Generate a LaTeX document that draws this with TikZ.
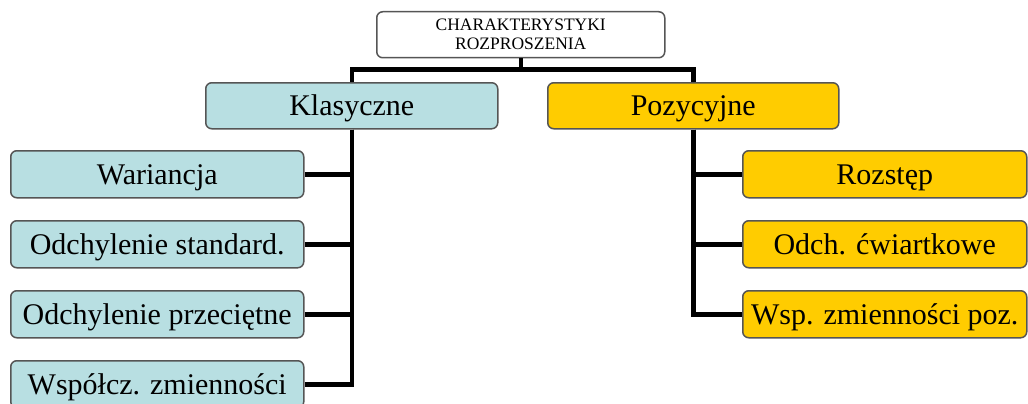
\documentclass[tikz,border=0pt]{standalone}
\usepackage{fontspec}
\setmainfont{Liberation Serif}
\definecolor{lblue}{RGB}{184,223,226}
\definecolor{gold}{RGB}{255,204,0}
\definecolor{bord}{RGB}{85,85,85}
\tikzset{
  box/.style={draw=bord, line width=1.5pt, rounded corners=6pt, anchor=north west, inner sep=0pt, font=\fontsize{30}{32}\selectfont},
  lbl/.style={text height=20pt, text depth=0pt},
  cbox/.style={box, lbl, fill=lblue},
  ybox/.style={box, lbl, fill=gold},
  link/.style={line width=4.5pt, black}
}
\begin{document}
\begin{tikzpicture}[x=1pt,y=-1pt]
\useasboundingbox (0,0) rectangle (1028,404);
\node[box, fill=white, minimum width=288pt, minimum height=46pt, font=\fontsize{17.5}{19}\selectfont, align=center] (top) at (376,11) {CHARAKTERYSTYKI\\ROZPROSZENIA};
\node[cbox, minimum width=292pt, minimum height=46pt] (kl) at (205,82) {Klasyczne};
\node[ybox, minimum width=291pt, minimum height=46pt] (po) at (547,82) {Pozycyjne};
\node[cbox, minimum width=293pt, minimum height=47pt] (c1) at (10,150) {Wariancja};
\node[cbox, minimum width=293pt, minimum height=47pt] (c2) at (10,220) {Odchylenie standard.};
\node[cbox, minimum width=293pt, minimum height=47pt] (c3) at (10,290) {Odchylenie przeciętne};
\node[cbox, minimum width=293pt, minimum height=47pt] (c4) at (10,360) {Współcz. zmienności};
\node[ybox, minimum width=284pt, minimum height=47pt] (p1) at (742,150) {Rozstęp};
\node[ybox, minimum width=284pt, minimum height=47pt] (p2) at (742,220) {Odch. ćwiartkowe};
\node[ybox, minimum width=284pt, minimum height=47pt] (p3) at (742,290) {Wsp. zmienności poz.};
\path (top.south) ++(0,11) coordinate (bar);
\draw[link] (top.south) -- (bar);
\draw[link] (bar) -| (kl.north);
\draw[link] (bar) -| (po.north);
\draw[link] (kl.south) |- (c1.east);
\draw[link] (kl.south) |- (c2.east);
\draw[link] (kl.south) |- (c3.east);
\draw[link] (kl.south) |- (c4.east);
\draw[link] (po.south) |- (p1.west);
\draw[link] (po.south) |- (p2.west);
\draw[link] (po.south) |- (p3.west);
\end{tikzpicture}
\end{document}
